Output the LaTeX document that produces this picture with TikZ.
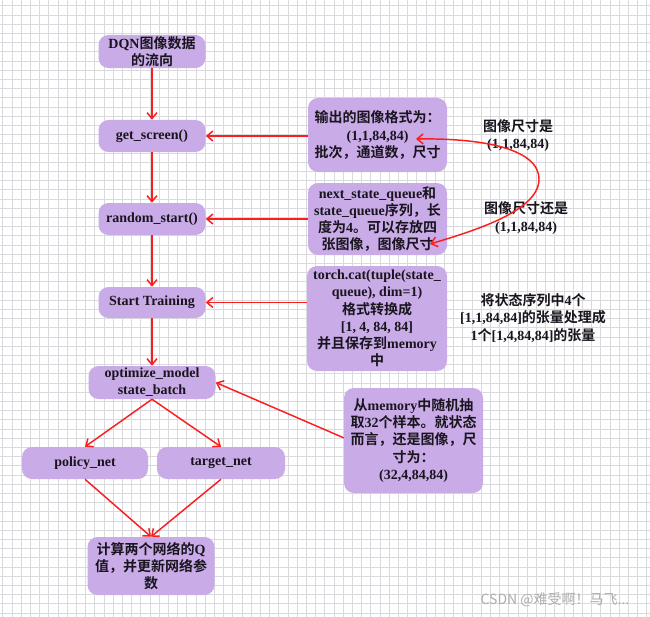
\documentclass[tikz,border=0pt]{standalone}
\usepackage{fontspec}
\setmainfont{Liberation Serif}
\newfontfamily\cjk{Noto Sans CJK SC}[BoldFont={Noto Sans CJK SC Bold}]
\newcommand{\zh}[1]{{\cjk #1}}
\usetikzlibrary{arrows.meta}
\definecolor{nodef}{RGB}{201,172,231}
\definecolor{arrc}{RGB}{250,30,30}
\definecolor{gridc}{RGB}{218,218,222}
\definecolor{txt}{RGB}{25,20,30}
\begin{document}
\begin{tikzpicture}[x=0.75pt,y=-0.75pt,
  box/.style={fill=nodef,draw=none,rounded corners=7.5pt,align=center,
    font=\bfseries\fontsize{10.5pt}{12.9pt}\selectfont,text=txt,inner sep=1pt},
  lbl/.style={align=center,font=\bfseries\fontsize{10.5pt}{12.9pt}\selectfont,text=txt,inner sep=0pt},
  arr/.style={draw=arrc,line width=1.1pt,-{Straight Barb[length=4.5pt,width=7.5pt]}},
  darr/.style={draw=arrc,line width=1.1pt,{Straight Barb[length=4.5pt,width=7.5pt]}-{Straight Barb[length=4.5pt,width=7.5pt]}}]
\useasboundingbox (0,0) rectangle (650,617);
\fill[white] (0,0) rectangle (650,617);
\foreach \i in {0,...,70} {\draw[gridc,line width=0.45pt] ({2.7+9.2*\i},0) -- ({2.7+9.2*\i},617);}
\foreach \j in {0,...,66} {\draw[gridc,line width=0.45pt] (0,{5.7+9.2*\j}) -- (650,{5.7+9.2*\j});}

% left column
\node[box,minimum width=80.25pt,minimum height=24.75pt] (dqn) at (152,51.5) {DQN\zh{图像数据}\\\zh{的流向}};
\node[box,minimum width=80.25pt,minimum height=24pt] (gs) at (152,136) {get\_screen()};
\node[box,minimum width=80.25pt,minimum height=24pt] (rs) at (152,219) {random\_start()};
\node[box,minimum width=80.25pt,minimum height=23.25pt] (st) at (152,302.5) {Start Training};
\node[box,minimum width=95.25pt,minimum height=24.75pt] (opt) at (152,382.5) {optimize\_model\\state\_batch};
\node[box,minimum width=94.5pt,minimum height=24pt] (pol) at (85,463) {policy\_net};
\node[box,minimum width=96pt,minimum height=24pt] (tgt) at (221,463) {target\_net};
\node[box,minimum width=95.25pt,minimum height=43.5pt] (bot) at (151,566) {\zh{计算两个网络的}Q\\\zh{值，并更新网络参}\\\zh{数}};

% right column
\node[box,minimum width=104.25pt,minimum height=55.5pt] (out) at (377.5,135) {\zh{输出的图像格式为：}\\(1,1,84,84)\\\zh{批次，通道数，尺寸}};
\node[box,minimum width=104.25pt,minimum height=54pt] (nxt) at (377.5,219) {next\_state\_queue\zh{和}\\state\_queue\zh{序列，长}\\\zh{度为}4\zh{。可以存放四}\\\zh{张图像，图像尺寸}};
\node[box,minimum width=105pt,minimum height=78.75pt] (cat) at (377,318.5) {torch.cat(tuple(state\_\\queue), dim=1)\\\zh{格式转换成}\\{[}1, 4, 84, 84]\\\zh{并且保存到}memory\\\zh{中}};
\node[box,minimum width=104.25pt,minimum height=78.75pt] (mem) at (413.5,440.5) {\zh{从}memory\zh{中随机抽}\\\zh{取}32\zh{个样本。就状态}\\\zh{而言，还是图像，尺}\\\zh{寸为：}\\(32,4,84,84)};

% labels
\node[lbl] (l1) at (518,135.5) {\zh{图像尺寸是}\\(1,1,84,84)};
\node[lbl] (l2) at (526,218) {\zh{图像尺寸还是}\\(1,1,84,84)};
\node[lbl] (l3) at (533,318) {\zh{将状态序列中}4\zh{个}\\{[}1,1,84,84]\zh{的张量处理成}\\1\zh{个}[1,4,84,84]\zh{的张量}};
\node[text=black!32,font=\cjk\fontsize{10.5pt}{12pt}\selectfont,inner sep=0pt] (wm) at (555,600) {CSDN @难受啊！马飞...};

% connectors
\draw[arr] (dqn) -- (gs);
\draw[arr] (gs) -- (rs);
\draw[arr] (rs) -- (st);
\draw[arr] (st) -- (opt);
\draw[arr] (opt.south) -- (pol.north);
\draw[arr] (opt.south) -- (tgt.north);
\draw[arr] (pol.south) -- (bot.north);
\draw[arr] (tgt.south) -- (bot.north);
\draw[arr] (gs.east -| out.west) -- (gs.east);
\draw[arr] (rs.east -| nxt.west) -- (rs.east);
\draw[arr] (st.east -| cat.west) -- (st.east);
\draw[arr] ([yshift=2pt]mem.west) -- (opt.east);
\coordinate (c1) at (416,139);
\coordinate (c2) at (430,244);
\draw[darr] (c1) .. controls (480,138) and (540,148) .. (539,180) .. controls (538,212) and (470,232) .. (c2);
\end{tikzpicture}
\end{document}
